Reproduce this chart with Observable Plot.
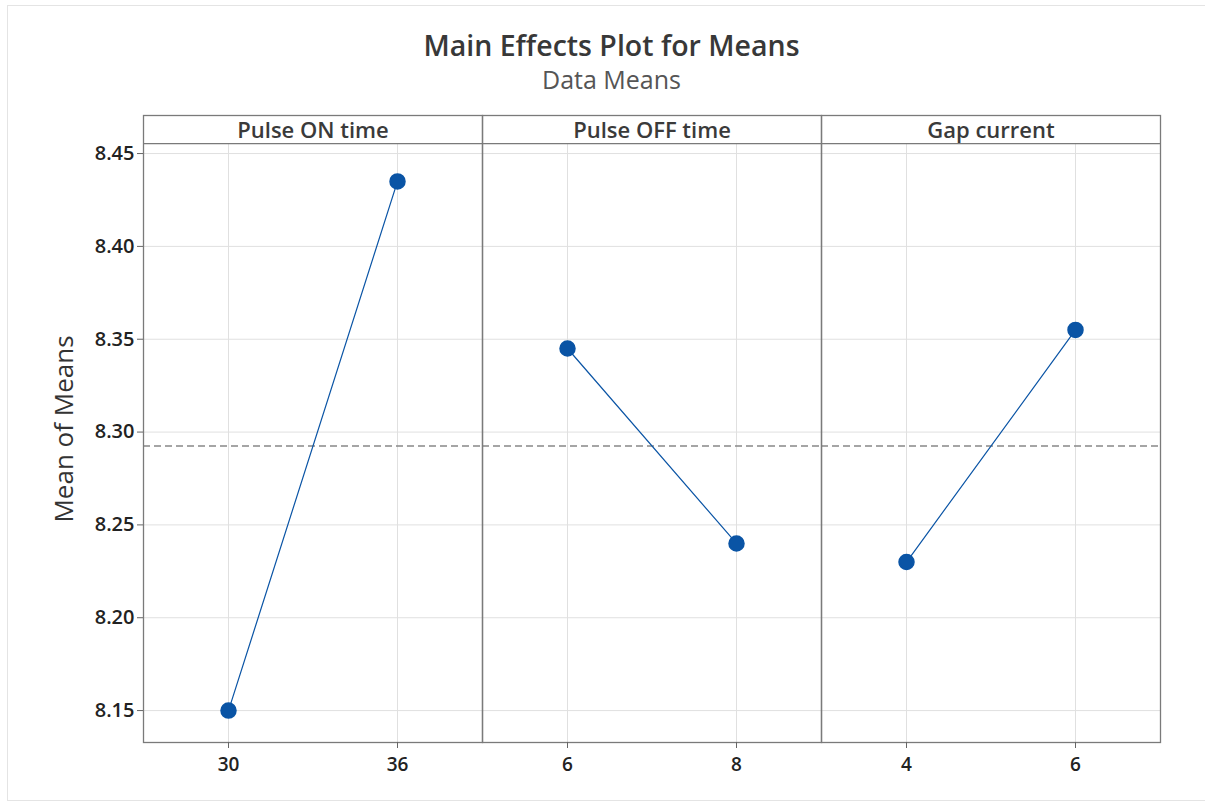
<!DOCTYPE html>
<html>
<head>
<meta charset="utf-8">
<script src="https://cdn.jsdelivr.net/npm/d3@7"></script>
<script src="https://cdn.jsdelivr.net/npm/@observablehq/plot@0.6"></script>
<style>
  html, body { margin: 0; padding: 0; background: #fff; }
  #wrap { position: relative; width: 1205px; height: 805px; overflow: hidden; font-family: "Open Sans", "Noto Sans", sans-serif; }
  #border { position: absolute; left: 7px; top: 5px; width: 1205px; height: 794px; border-left: 1px solid #e4e4e4; border-top: 1px solid #e4e4e4; border-bottom: 1px solid #e4e4e4; }
  #title { position: absolute; left: 9px; width: 1205px; top: 25px; text-align: center; font-size: 28.5px; font-weight: 600; color: #383838; line-height: 40px; }
  #subtitle { position: absolute; left: 9px; width: 1205px; top: 63px; text-align: center; font-size: 25px; color: #555; line-height: 32px; }
  #chart { position: absolute; left: 0; top: 100px; }
</style>
</head>
<body>
<div id="wrap">
  <div id="border"></div>
  <div id="title">Main Effects Plot for Means</div>
  <div id="subtitle">Data Means</div>
  <div id="chart"></div>
</div>
<script>
const factors = ["Pulse ON time", "Pulse OFF time", "Gap current"];
const levels = [["30", "36"], ["6", "8"], ["4", "6"]];
const means = [[8.15, 8.435], [8.345, 8.24], [8.23, 8.355]];
const overallMean = 8.2925;
const yTicks = [8.15, 8.20, 8.25, 8.30, 8.35, 8.40, 8.45];
const yMin = 8.1328;      // bottom of panels
const yPanelTop = 8.4554; // top of data area (bottom of header strip)
const yHeaderTop = 8.4705; // top of header strip
const yLabel = "Mean of Means";

const rows = [];
factors.forEach((f, i) => {
  levels[i].forEach((lv, j) => {
    rows.push({factor: f, level: lv, pos: j, mean: means[i][j]});
  });
});

const blue = "#0a54a5";
const font = "'Open Sans', 'Noto Sans', sans-serif";
const chart = Plot.plot({
  width: 1205,
  height: 700,
  marginLeft: 143,
  marginRight: 45,
  marginTop: 15,
  marginBottom: 58,
  style: {fontFamily: font, background: "transparent"},
  fx: {domain: factors, padding: 0, axis: null},
  x: {type: "point", domain: [0, 1], padding: 0.5, axis: null},
  y: {domain: [yMin, yHeaderTop], axis: null},
  marks: [
    Plot.ruleY(yTicks, {stroke: "#e0e0e0", strokeWidth: 1}),
    Plot.ruleX(rows, {x: "pos", fx: "factor", y1: yMin, y2: yPanelTop, stroke: "#e0e0e0", strokeWidth: 1}),
    Plot.ruleY([overallMean], {stroke: "#888", strokeDasharray: "7,4", strokeWidth: 1.3}),
    Plot.frame({stroke: "#7a7a7a", strokeWidth: 1.3}),
    Plot.ruleY([yPanelTop], {stroke: "#7a7a7a", strokeWidth: 1.3}),
    Plot.text(factors, {fx: d => d, y: (yPanelTop + yHeaderTop) / 2, text: d => d, fontSize: 22, fill: "#3a3a3a", fontWeight: 600, dy: 1}),
    Plot.line(rows, {x: "pos", y: "mean", fx: "factor", stroke: blue, strokeWidth: 1.2}),
    Plot.dot(rows, {x: "pos", y: "mean", fx: "factor", r: 7.5, fill: blue, stroke: blue}),
    // x tick marks and labels per panel
    Plot.ruleX(rows, {x: "pos", fx: "factor", y1: yMin, y2: yMin, insetBottom: -6, stroke: "#666"}),
    Plot.text(rows, {x: "pos", fx: "factor", y: yMin, text: "level", dy: 22, fontSize: 19, fill: "#222", fontWeight: 600}),
    // y axis on first panel
    Plot.axisY(yTicks, {tickFormat: d3.format(".2f"), tickSize: 6, tickPadding: 3, fontSize: 20, fill: "#222", fontWeight: 600, stroke: "#666", label: null}),
    Plot.text([yLabel], {fx: () => factors[0], frameAnchor: "left", textAnchor: "middle", rotate: -90, dx: -79, text: d => d, fontSize: 26, fill: "#333", fontWeight: 500})
  ]
});
document.getElementById("chart").appendChild(chart);
</script>
</body>
</html>
